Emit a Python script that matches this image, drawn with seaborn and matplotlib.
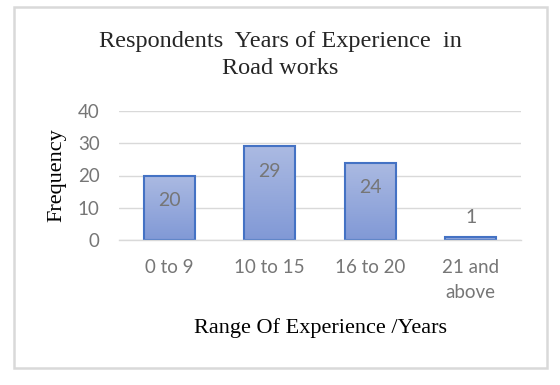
import numpy as np
import pandas as pd
import matplotlib
matplotlib.use("Agg")
import matplotlib.pyplot as plt
from matplotlib.colors import LinearSegmentedColormap
from matplotlib.patches import Rectangle
import seaborn as sns

# data
categories = ["0 to 9", "10 to 15", "16 to 20", "21 and\nabove"]
frequency = [20, 29, 24, 1]
y_ticks = [0, 10, 20, 30, 40]

TITLE = "Respondents  Years of Experience  in\nRoad works"
XLABEL = "Range Of Experience /Years"
YLABEL = "Frequency"

SERIF = "Liberation Serif"
SANS = "Lato"
GREY = "#767676"

sns.set_style("white")
plt.rcParams["font.family"] = [SANS, "DejaVu Sans"]

df = pd.DataFrame({"range": categories, "freq": frequency})

fig = plt.figure(figsize=(5.6, 3.85), dpi=100)
ax = fig.add_axes([119/560, 1-240/385, (521-119)/560, (240-111)/385])

sns.barplot(data=df, x="range", y="freq", ax=ax, color="#95a8dc",
            edgecolor="#4472c4", linewidth=1.5, width=0.51, zorder=3)

# vertical gradient fill, like the Excel chart
cmap = LinearSegmentedColormap.from_list("g", ["#8199d6", "#abbae2"])
grad = np.linspace(0, 1, 100).reshape(-1, 1)
for p in ax.patches:
    x, w, h = p.get_x(), p.get_width(), p.get_height()
    im = ax.imshow(grad, extent=[x, x + w, 0, h], origin="lower",
                   aspect="auto", cmap=cmap, zorder=2.9)
    im.set_clip_path(p)
    p.set_facecolor("none")

ax.set_xlim(-0.5, len(categories) - 0.5)
ax.set_ylim(0, 40)
ax.set_yticks(y_ticks)
ax.yaxis.grid(True, color="#d9d9d9", linewidth=1)
ax.set_axisbelow(True)
for s in ["top", "right", "left"]:
    ax.spines[s].set_visible(False)
ax.spines["bottom"].set_color("#d9d9d9")
ax.spines["bottom"].set_linewidth(1)
ax.spines["bottom"].set_zorder(4)

ax.tick_params(axis="both", length=0, labelsize=13.5, labelcolor=GREY)
ax.tick_params(axis="x", pad=14)
ax.tick_params(axis="y", pad=14)
for t in ax.get_xticklabels():
    t.set_linespacing(1.55)

# value labels: inside end, or outside when the bar is too short
for i, v in enumerate(frequency):
    off = -25 if v > 5 else 19
    ax.annotate(str(v), (i, v), xytext=(0, off), textcoords="offset pixels",
                ha="center", va="center", fontsize=14, color=GREY, zorder=5)

ax.set_xlabel(XLABEL, family=SERIF, fontsize=16, color="black", labelpad=12)
ax.set_ylabel(YLABEL, family=SERIF, fontsize=16, color="black", labelpad=8)

fig.text(280/560, 1-55/385, TITLE, family=SERIF, fontsize=17.5, ha="center",
         va="center", linespacing=1.35)

# chart border
fig.patches.append(Rectangle((14/560, 1-368/385), 533/560, 361/385,
                             transform=fig.transFigure, fill=False,
                             edgecolor="#d9d9d9", linewidth=1.8))

fig.savefig("out.png", dpi=100)
